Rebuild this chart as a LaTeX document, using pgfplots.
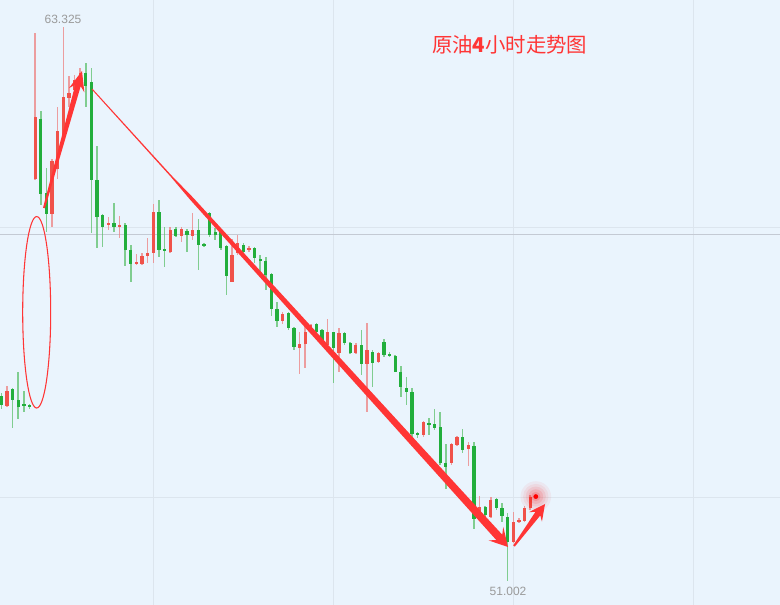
\documentclass[border=0pt]{standalone}
\usepackage{pgfplots}
\pgfplotsset{compat=1.18}
\usepackage{pgfplotstable}
\usepackage{fontspec}
\setmainfont{Liberation Sans}
\newfontfamily\cjk{Noto Sans CJK SC}
\definecolor{bgc}{HTML}{EAF4FD}
\definecolor{gridc}{HTML}{DCE5EE}
\definecolor{refc}{HTML}{C4CAD4}
\definecolor{upbody}{HTML}{F0524A}
\definecolor{upwick}{HTML}{EE8080}
\definecolor{dnbody}{HTML}{22AE3C}
\definecolor{dnwick}{HTML}{5DC06C}
\definecolor{arrowred}{HTML}{FF3535}
\definecolor{labelgray}{HTML}{9A9A9A}

\pgfplotstableread{
i o h l c
1 54.89 55.34 54.87 55.24
6 59.94 63.20 59.93 61.32
9 59.17 60.38 58.88 60.35
10 60.16 61.54 59.94 61.02
11 60.87 63.325 60.81 61.77
12 61.74 62.24 61.55 61.86
13 61.92 62.26 61.81 62.15
14 62.21 62.41 62.15 62.30
19 58.92 59.09 58.81 58.97
21 58.88 59.12 58.63 58.92
24 58.05 58.28 58.03 58.10
25 58.05 58.30 58.03 58.23
26 58.23 58.63 58.07 58.30
27 58.29 59.40 58.08 59.22
30 58.33 58.87 58.29 58.81
32 58.68 58.87 58.55 58.83
34 58.68 59.19 58.59 58.81
41 57.66 58.60 57.65 58.25
42 58.29 58.70 58.25 58.51
44 58.37 58.45 58.33 58.40
50 56.79 56.99 56.73 56.94
53 56.18 56.53 55.61 56.27
54 56.27 56.72 55.73 56.55
55 56.55 56.72 56.51 56.70
58 56.25 56.82 56.18 56.55
60 56.07 56.62 55.66 56.51
63 56.08 56.29 56.05 56.25
65 55.83 56.75 54.75 56.13
67 55.88 56.10 55.84 56.08
75 54.24 54.56 54.21 54.53
80 53.63 54.07 53.58 54.05
81 54.03 54.23 54.00 54.21
83 53.93 54.10 53.56 54.02
85 52.42 52.89 52.40 52.64
87 52.42 52.88 52.40 52.80
91 51.88 52.54 51.84 52.32
92 52.32 52.40 52.29 52.36
93 52.34 52.67 52.32 52.62
94 52.62 52.92 52.58 52.88
}\uptab

\pgfplotstableread{
i o h l c
0 55.12 55.18 54.83 54.92
2 55.27 55.30 54.41 55.04
3 55.04 55.65 54.61 54.88
4 54.93 55.23 54.75 54.91
5 54.91 54.95 54.82 54.89
7 61.29 61.46 59.37 59.61
8 59.63 60.18 58.77 59.17
15 62.30 62.53 61.55 62.01
16 62.11 62.41 58.74 59.92
17 59.92 60.68 58.42 59.11
18 59.14 59.16 58.43 58.87
20 58.97 59.42 58.77 58.87
22 58.91 58.96 58.01 58.37
23 58.37 58.48 57.66 58.05
28 59.22 59.48 58.22 58.37
29 58.38 58.88 57.99 58.34
31 58.83 58.87 58.66 58.68
33 58.79 58.83 58.33 58.70
35 58.81 59.05 57.92 58.48
36 58.50 58.52 58.43 58.46
37 59.19 59.22 58.66 58.70
38 58.77 58.85 58.59 58.70
39 58.77 58.81 58.36 58.40
40 58.45 58.48 57.36 57.79
43 58.48 58.53 58.29 58.33
45 58.40 58.43 58.07 58.18
46 58.17 58.25 57.88 58.13
47 58.12 58.22 57.48 57.81
48 57.83 57.86 56.90 57.05
49 57.05 57.21 56.66 56.79
51 56.96 56.99 56.58 56.62
52 56.62 56.66 56.14 56.21
56 56.71 56.73 56.51 56.55
57 56.58 56.60 56.29 56.32
59 56.55 56.55 55.41 56.18
61 56.51 56.55 56.25 56.29
62 56.29 56.33 56.05 56.08
64 56.25 56.58 55.58 55.84
66 56.10 56.14 55.32 55.84
68 56.32 56.38 55.99 56.03
69 56.05 56.10 55.98 56.01
70 56.01 56.03 55.64 55.66
71 55.64 55.78 55.10 55.31
72 55.29 55.55 54.92 55.21
73 55.21 55.29 54.00 54.27
74 54.28 54.32 54.18 54.25
76 54.52 54.63 54.25 54.47
77 54.50 54.82 54.36 54.40
78 54.42 54.76 53.58 53.63
79 53.63 54.06 53.04 53.54
82 54.20 54.38 53.86 53.92
84 54.00 54.10 52.17 52.37
86 52.64 52.67 52.43 52.47
88 52.82 52.85 52.58 52.62
89 52.62 52.73 52.32 52.45
90 52.43 52.52 51.002 51.88
}\dntab

\pgfplotsset{
  candlewick/.style={draw=none, mark=none, error bars/.cd, y dir=both, y explicit, error mark=none,
    error bar style={draw=#1, draw opacity=0.75, line width=1.2pt}},
  candlebody/.style={draw=none, mark=none, error bars/.cd, y dir=both, y explicit, error mark=none,
    error bar style={draw=#1, line width=2.5pt}},
  glow/.style 2 args={only marks, mark=*, color=red, mark size=#1,
    mark options={line width=0pt, draw=red, fill=red, draw opacity=0, fill opacity=#2}},
}

\begin{document}
\begin{tikzpicture}
\begin{axis}[name=ax, at={(0,0)}, anchor=south west,
  width=585pt, height=453.75pt, scale only axis,
  xmin=-0.253, xmax=138.41, ymin=50.468, ymax=63.926,
  axis background/.style={fill=bgc},
  axis line style={draw=none},
  xtick={27,59,91,123}, ytick={52.864,58.870},
  xticklabels={}, yticklabels={},
  major tick length=0pt,
  tick style={draw=none},
  grid=major, grid style={draw=gridc, line width=0.75pt},
  extra y ticks={58.714}, extra y tick labels={},
  extra y tick style={grid=major, grid style={draw=refc, line width=0.75pt}},
  clip=true]
% wicks
\addplot[candlewick=dnwick]
  table[x=i, y expr={(\thisrow{h}+\thisrow{l})/2}, y error expr={(\thisrow{h}-\thisrow{l})/2}] {\dntab};
\addplot[candlewick=upwick]
  table[x=i, y expr={(\thisrow{h}+\thisrow{l})/2}, y error expr={(\thisrow{h}-\thisrow{l})/2}] {\uptab};
% bodies
\addplot[candlebody=dnbody]
  table[x=i, y expr={(\thisrow{o}+\thisrow{c})/2}, y error expr={max(abs(\thisrow{o}-\thisrow{c})/2,0.022)}] {\dntab};
\addplot[candlebody=upbody]
  table[x=i, y expr={(\thisrow{o}+\thisrow{c})/2}, y error expr={max(abs(\thisrow{o}-\thisrow{c})/2,0.022)}] {\uptab};
% current price glowing dot
\addplot[glow={11.5pt}{0.05}] coordinates {(95,52.88)};
\addplot[glow={9.5pt}{0.06}] coordinates {(95,52.88)};
\addplot[glow={7.5pt}{0.08}] coordinates {(95,52.88)};
\addplot[glow={5.5pt}{0.10}] coordinates {(95,52.88)};
\addplot[glow={3.5pt}{0.14}] coordinates {(95,52.88)};
\addplot[glow={1.8pt}{1}] coordinates {(95,52.88)};
\end{axis}

\begin{scope}[shift={(ax.north west)}, x=0.75pt, y=-0.75pt]
% ellipse
\draw[arrowred, line width=0.8pt] (36.7,312.3) ellipse [x radius=10.5pt, y radius=71.8pt];
% arrow 1 (up)
\fill[arrowred] (44.96,208.27) -- (80.69,86.20) -- (84.37,92.41) -- (82,71)
  -- (68.95,88.13) -- (75.29,84.70) -- (43.04,207.73) -- cycle;
% arrow 2 (long, tapered)
\fill[arrowred] (91.63,89.34) -- (170.52,176.49) -- (190.51,200.13) -- (496.30,540.07)
  -- (488.50,540.39) -- (508,547) -- (503.30,526.95) -- (502.22,534.69)
  -- (193.17,197.71) -- (171.56,175.55) -- (92.37,88.66) -- cycle;
% arrow 3 (rebound)
\fill[arrowred] (514.80,546.59) -- (540.28,515.44) -- (541.94,521.62) -- (545,504)
  -- (529.06,512.12) -- (535.46,511.88) -- (513.20,545.41) -- cycle;
% texts
\node[text=arrowred, inner sep=0pt, font=\cjk\fontsize{15.3pt}{18pt}\selectfont] at (509.7,45) {原油{\bfseries 4}小时走势图};
\node[text=labelgray, inner sep=0pt, font=\fontsize{9pt}{11pt}\selectfont] at (63,19) {63.325};
\node[text=labelgray, inner sep=0pt, font=\fontsize{9pt}{11pt}\selectfont] at (508,591) {51.002};
\end{scope}
\pgfresetboundingbox
\path[use as bounding box] (ax.south west) rectangle (ax.north east);
\end{tikzpicture}
\end{document}
